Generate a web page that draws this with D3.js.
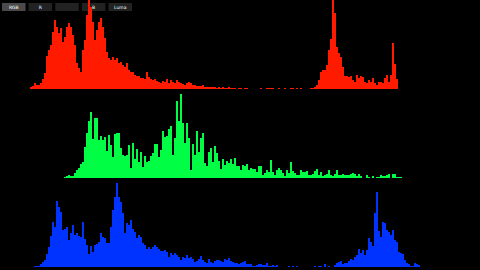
<!DOCTYPE html>
<html>
<head>
<meta charset="utf-8">
<script src="https://cdn.jsdelivr.net/npm/d3@7/dist/d3.min.js"></script>
<style>
  html, body { margin: 0; padding: 0; background: #000; }
  svg { display: block; }
</style>
</head>
<body>
<svg id="chart" width="480" height="270"></svg>
<script>
// ---- data (histogram levels: 240 bins) ----
const binCount = 240;
const buttonLabels = ["RGB", "R", "G", "B", "Luma"];
const buttonLabelColors = ["#ffffff", "#ffffff", "#2a2a2a", "#ffffff", "#ffffff"];
const activeButton = 0;

const redFirstBin = 15;
const redValues = [2,3,6,4,4,6,10,16,33,39,44,57,69,62,56,61,47,52,62,66,62,54,44,26,21,17,39,49,74,89,82,67,49,59,67,71,62,51,37,31,29,32,29,31,26,27,24,22,26,19,17,17,14,13,13,11,11,10,17,12,10,9,10,8,7,6,8,7,10,6,9,7,6,9,7,6,5,4,6,7,6,4,4,3,3,3,4,2,2,2,2,2,2,1,2,1,2,1,1,2,1,1,1,0,1,
1,0,1,1,0,0,0,0,0,0,1,0,0,1,1,1,1,0,0,1,0,0,1,0,0,1,1,0,1,0,1,0,0,0,0,1,1,2,4,9,17,19,19,24,39,50,89,76,42,36,32,22,13,13,12,13,9,7,14,11,13,12,7,6,9,7,11,6,4,7,7,6,11,14,7,14,46,25,10];

const greenFirstBin = 32;
const greenValues = [1,2,3,2,2,5,8,10,14,16,31,45,57,66,39,60,60,38,42,38,41,27,43,33,21,44,45,45,30,23,22,23,33,10,35,19,29,16,26,11,22,16,17,22,25,34,34,21,28,47,41,42,49,52,23,40,77,57,84,55,35,55,40,8,34,23,47,26,40,45,15,12,26,30,16,32,25,17,9,19,13,17,15,19,14,20,12,12,
8,13,12,14,8,10,9,9,6,12,12,3,5,8,6,18,6,3,8,10,8,5,2,8,5,16,7,5,3,3,8,6,6,7,3,3,4,7,9,3,6,2,3,4,8,3,2,4,8,3,3,4,3,3,3,4,5,4,2,4,2,0,0,3,1,0,2,0,1,1,3,2,2,3,4,0,4,4,1,1,1];

const blueFirstBin = 17;
const blueValues = [1,1,1,3,5,7,13,20,31,45,40,66,60,55,37,38,40,27,34,42,32,34,31,30,45,28,22,13,21,15,22,23,25,34,30,29,24,24,40,57,70,84,70,65,54,34,44,42,47,38,35,29,32,30,24,22,18,20,18,20,22,20,18,16,16,17,15,10,14,12,14,12,10,7,10,9,12,9,10,8,5,6,8,11,7,5,4,8,5,4,6,7,7,6,5,8,7,9,6,5,4,4,3,
4,5,6,3,3,3,1,1,2,3,3,2,2,4,1,1,2,1,2,0,0,0,0,0,1,0,1,0,1,0,0,0,0,0,0,0,0,1,0,1,1,0,3,0,1,0,0,2,4,5,6,3,4,4,6,8,7,10,12,18,14,17,12,17,29,25,21,54,75,36,30,45,44,37,35,32,37,27,25,15,14,13,7,4,3,1,1,4,3,2];

const channels = [
  { name: "red",   firstBin: redFirstBin,   values: redValues,   color: "#ff1a00" },
  { name: "green", firstBin: greenFirstBin, values: greenValues, color: "#00ff44" },
  { name: "blue",  firstBin: blueFirstBin,  values: blueValues,  color: "#0033ff" }
];

// ---- layout ----
const W = 480, H = 270;
const panelH = 89;
const svg = d3.select("#chart");
svg.append("rect").attr("width", W).attr("height", H).attr("fill", "#000");

const x = d3.scaleLinear().domain([0, binCount]).range([0, W]);

// buttons
const btn = d3.scaleBand().domain(d3.range(buttonLabels.length)).range([2, 132]).paddingInner(0.115);
const gBtn = svg.append("g");
gBtn.selectAll("rect").data(buttonLabels).join("rect")
  .attr("x", (d, i) => btn(i)).attr("y", 3)
  .attr("width", btn.bandwidth()).attr("height", 8)
  .attr("fill", (d, i) => i === activeButton ? "#4a4a4a" : "#222");
gBtn.selectAll("text").data(buttonLabels).join("text")
  .attr("x", (d, i) => btn(i) + btn.bandwidth() / 2).attr("y", 8.8)
  .attr("text-anchor", "middle")
  .attr("font-family", "DejaVu Sans")
  .attr("font-size", 4.5)
  .attr("fill", (d, i) => buttonLabelColors[i])
  .text(d => d);

// histograms
channels.forEach((ch, ci) => {
  const base = (ci + 1) * panelH;
  const y = d3.scaleLinear().domain([0, 89]).range([base, base - panelH]);
  const data = ch.values.map((v, i) => ({ bin: ch.firstBin + i, v }));
  svg.append("g").attr("shape-rendering", "crispEdges")
    .selectAll("rect").data(data.filter(d => d.v > 0)).join("rect")
    .attr("x", d => x(d.bin))
    .attr("width", d => x(d.bin + 1) - x(d.bin))
    .attr("y", d => y(d.v))
    .attr("height", d => y(0) - y(d.v))
    .attr("fill", ch.color);
});
</script>
</body>
</html>
